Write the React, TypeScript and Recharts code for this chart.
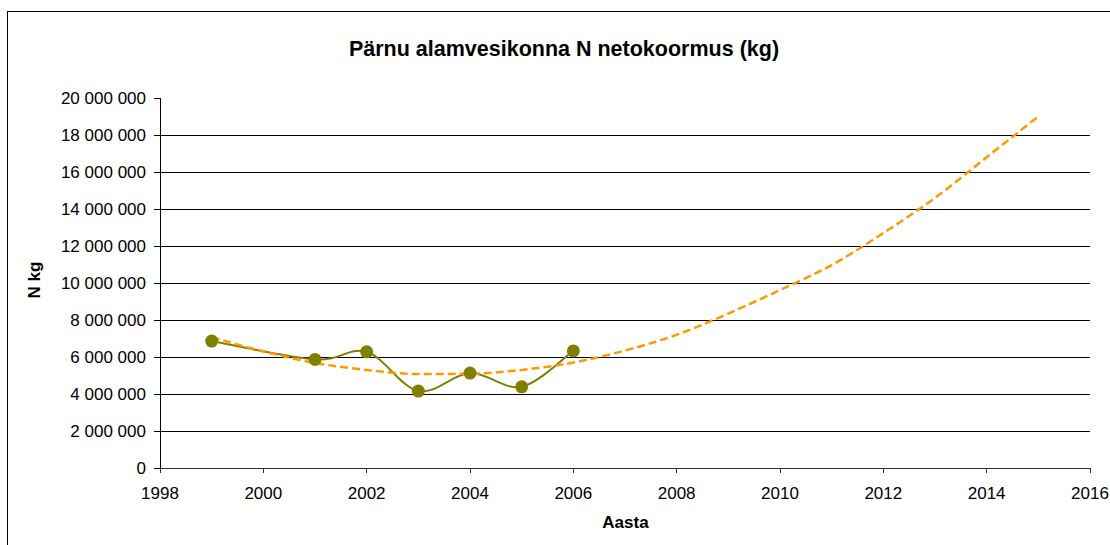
import React from 'react';
import { LineChart, Line, XAxis, YAxis, CartesianGrid } from 'recharts';

const years = [1999, 2001, 2002, 2003, 2004, 2005, 2006];
const loadKg = [6860000, 5870000, 6280000, 4160000, 5130000, 4390000, 6330000];

const trendYears = [1999, 2000, 2001, 2002, 2003, 2004, 2005, 2006, 2007, 2008, 2009, 2010, 2011, 2012, 2013, 2014, 2015];
const trendKg = [7080000, 6300000, 5680000, 5300000, 5080000, 5100000, 5300000, 5700000, 6350000, 7200000, 8350000, 9620000, 10970000, 12700000, 14600000, 16800000, 19000000];

const xTicks = [1998, 2000, 2002, 2004, 2006, 2008, 2010, 2012, 2014, 2016];
const yTicks = [0, 2000000, 4000000, 6000000, 8000000, 10000000, 12000000, 14000000, 16000000, 18000000, 20000000];
const gridValues = [2000000, 4000000, 6000000, 8000000, 10000000, 12000000, 14000000, 16000000, 18000000];

const TITLE = 'Pärnu alamvesikonna N netokoormus (kg)';
const X_TITLE = 'Aasta';
const Y_TITLE = 'N kg';

const mainData = years.map((y, i) => ({ year: y, value: loadKg[i] }));
const trendData = trendYears.map((y, i) => ({ year: y, trend: trendKg[i] }));

const FONT = '"Liberation Sans", Arial, sans-serif';

const fmt = (v: number) => String(v).replace(/\B(?=(\d{3})+(?!\d))/g, ' ');

// Excel-like smoothing (cardinal / Catmull-Rom style Bezier)
const smoothCurve: any = (context: any) => {
  let pts: number[][] = [];
  return {
    areaStart() {},
    areaEnd() {},
    lineStart() { pts = []; },
    point(x: number, y: number) { pts.push([+x, +y]); },
    lineEnd() {
      if (!pts.length) return;
      context.moveTo(pts[0][0], pts[0][1]);
      const t = 1 / 6;
      for (let i = 0; i < pts.length - 1; i++) {
        const p0 = pts[i - 1] || pts[i];
        const p1 = pts[i];
        const p2 = pts[i + 1];
        const p3 = pts[i + 2] || p2;
        context.bezierCurveTo(
          p1[0] + (p2[0] - p0[0]) * t, p1[1] + (p2[1] - p0[1]) * t,
          p2[0] - (p3[0] - p1[0]) * t, p2[1] - (p3[1] - p1[1]) * t,
          p2[0], p2[1]
        );
      }
    },
  };
};

export default function App() {
  return (
    <div style={{ position: 'absolute', left: 0, top: 0, width: 1110, height: 545, background: '#fff' }}>
      <LineChart width={1110} height={545} margin={{ top: 98, right: 20, left: 0, bottom: 0 }}>
        <CartesianGrid horizontal vertical={false} horizontalValues={gridValues} stroke="#000" strokeWidth={1} shapeRendering="crispEdges" />
        <XAxis
          dataKey="year"
          type="number"
          domain={[1998, 2016]}
          ticks={xTicks}
          allowDuplicatedCategory={false}
          height={77}
          tickSize={5}
          tickMargin={14}
          stroke="#333"
          shapeRendering="crispEdges"
          tick={{ fill: '#000', fontSize: 17, fontFamily: FONT }}
        />
        <YAxis
          type="number"
          domain={[0, 20000000]}
          ticks={yTicks}
          width={160}
          tickSize={6}
          tickMargin={8}
          stroke="#000"
          shapeRendering="crispEdges"
          tickFormatter={fmt}
          tick={{ fill: '#000', fontSize: 17, fontFamily: FONT }}
        />
        <Line
          data={mainData}
          dataKey="value"
          type={smoothCurve}
          stroke="#808000"
          strokeWidth={2}
          dot={{ r: 6.5, fill: '#808000', stroke: 'none' }}
          activeDot={false}
          isAnimationActive={false}
        />
        <Line
          data={trendData}
          dataKey="trend"
          type="monotone"
          stroke="#FF9900"
          strokeWidth={2.5}
          strokeDasharray="8 4"
          dot={false}
          activeDot={false}
          isAnimationActive={false}
        />
      </LineChart>
      <svg width={1110} height={545} style={{ position: 'absolute', left: 0, top: 0, pointerEvents: 'none' }}>
        <rect x={7.5} y={11.5} width={1200} height={600} fill="none" stroke="#000" strokeWidth={1} />
        <text x={564} y={56} textAnchor="middle" fontFamily={FONT} fontWeight="bold" fontSize={21.5} fill="#000">{TITLE}</text>
        <text x={625.5} y={528} textAnchor="middle" fontFamily={FONT} fontWeight="bold" fontSize={17} fill="#000">{X_TITLE}</text>
        <text transform="translate(40,280) rotate(-90)" textAnchor="middle" fontFamily={FONT} fontWeight="bold" fontSize={17} fill="#000">{Y_TITLE}</text>
      </svg>
    </div>
  );
}
